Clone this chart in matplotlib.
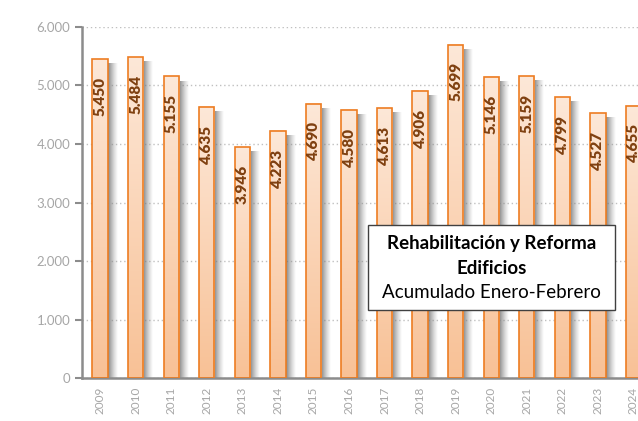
import numpy as np
import matplotlib.pyplot as plt
from matplotlib.patches import Rectangle
from matplotlib.colors import LinearSegmentedColormap

# Datos
years = ['2009', '2010', '2011', '2012', '2013', '2014', '2015', '2016',
         '2017', '2018', '2019', '2020', '2021', '2022', '2023', '2024']
values = [5450, 5484, 5155, 4635, 3946, 4223, 4690, 4580,
          4613, 4906, 5699, 5146, 5159, 4799, 4527, 4655]
yticks = [0, 1000, 2000, 3000, 4000, 5000, 6000]
ytick_labels = ['0', '1.000', '2.000', '3.000', '4.000', '5.000', '6.000']

plt.rcParams['font.family'] = ['Lato', 'DejaVu Sans']

fig = plt.figure(figsize=(6.38, 4.21), dpi=100)
ax = fig.add_axes([0.1285, 0.102, 0.88, 0.834])

bar_cmap = LinearSegmentedColormap.from_list('bar', ['#f8c196', '#fde8d8'])
shadow_cmap = LinearSegmentedColormap.from_list('sh', [(0.4, 0.4, 0.4, 0.8), (0.6, 0.6, 0.6, 0.0)])
grad_v = np.linspace(0, 1, 256).reshape(-1, 1)
grad_h = np.linspace(0, 1, 64).reshape(1, -1)

width = 0.43
x = np.arange(len(years))
for xi, v in zip(x, values):
    # sombra a la derecha
    ax.imshow(grad_h, extent=[xi + width / 2, xi + width / 2 + 0.28, 0, v - 80],
              cmap=shadow_cmap, aspect='auto', origin='lower', zorder=1)
    # relleno degradado
    ax.imshow(grad_v, extent=[xi - width / 2, xi + width / 2, 0, v],
              cmap=bar_cmap, aspect='auto', origin='lower', zorder=2)
    ax.add_patch(Rectangle((xi - width / 2, 0), width, v, fill=False,
                           edgecolor='#ed7d22', linewidth=1.2, zorder=3))
    ax.text(xi, v - 300, f'{v:,}'.replace(',', '.'), rotation=90, ha='center', va='top',
            fontsize=11, fontweight='heavy', color='#7f4010', zorder=4)

ax.set_xlim(-0.51, len(years) - 0.72)
ax.set_ylim(0, 6000)
ax.set_yticks(yticks)
ax.set_yticklabels(ytick_labels, color='#a6a6a6', fontsize=9.5)
ax.set_xticks(x)
ax.set_xticklabels(years, rotation=90, color='#a6a6a6', fontsize=8.5)
ax.tick_params(axis='x', length=0, pad=6)
ax.tick_params(axis='y', length=5, color='#8c8c8c', width=1.5)

ax.grid(axis='y', linestyle=(0, (1, 2)), color='#c0c0c0', linewidth=1)
ax.set_axisbelow(True)
for side in ['top', 'right']:
    ax.spines[side].set_visible(False)
ax.spines['left'].set_color('#8c8c8c')
ax.spines['left'].set_linewidth(1.8)
ax.spines['bottom'].set_color('#8c8c8c')
ax.spines['bottom'].set_linewidth(1.8)

# Cuadro de título
cx = 491.5 / 638
fig.patches.append(Rectangle((368 / 638, 1 - 310 / 421), (615 - 368) / 638, (310 - 225) / 421,
                             transform=fig.transFigure, facecolor='white',
                             edgecolor='#404040', linewidth=1, zorder=5))
fig.text(cx, 1 - 243 / 421, 'Rehabilitación y Reforma', ha='center', va='center',
         fontsize=13.5, fontweight='bold', color='black', zorder=6)
fig.text(cx, 1 - 268 / 421, 'Edificios', ha='center', va='center',
         fontsize=13.5, fontweight='bold', color='black', zorder=6)
fig.text(cx, 1 - 293 / 421, 'Acumulado Enero-Febrero', ha='center', va='center',
         fontsize=13.5, color='black', zorder=6)

fig.savefig('out.png', dpi=100)
